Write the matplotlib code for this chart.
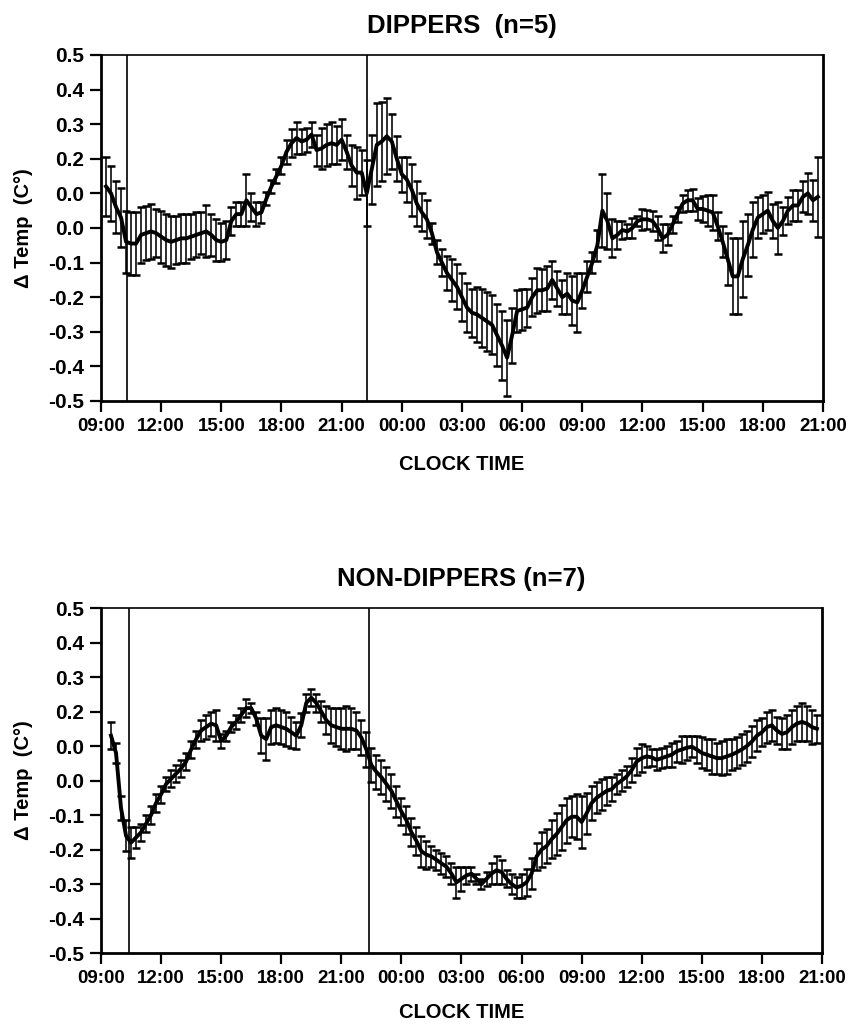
import numpy as np
import matplotlib
matplotlib.use("Agg")
import matplotlib.pyplot as plt

plt.rcParams['font.family'] = ['Liberation Sans', 'DejaVu Sans']

# Clock-tick labels, hours after 09:00 on day 1
tick_hours = [0, 3, 6, 9, 12, 15, 18, 21, 24, 27, 30, 33, 36]
tick_labels = ["09:00", "12:00", "15:00", "18:00", "21:00", "00:00", "03:00",
               "06:00", "09:00", "12:00", "15:00", "18:00", "21:00"]
ytick_values = [-0.5, -0.4, -0.3, -0.2, -0.1, 0.0, 0.1, 0.2, 0.3, 0.4, 0.5]
ytick_labels = ["-0.5", "-0.4", "-0.3", "-0.2", "-0.1", "0.0", "0.0",
                "0.2", "0.3", "0.4", "0.5"]

# DIPPERS: 15-min means from 09:15, one row per clock hour
dip_mean = [
    0.12, 0.10, 0.06, 0.03,          # 09
    -0.04, -0.045, -0.045, -0.02,    # 10
    -0.015, -0.01, -0.015, -0.025,   # 11
    -0.035, -0.04, -0.035, -0.03,    # 12
    -0.03, -0.025, -0.02, -0.015,    # 13
    -0.01, -0.02, -0.035, -0.04,     # 14
    -0.035, 0.02, 0.04, 0.04,        # 15
    0.08, 0.06, 0.04, 0.045,         # 16
    0.085, 0.12, 0.15, 0.18,         # 17
    0.22, 0.245, 0.26, 0.25,         # 18
    0.255, 0.27, 0.225, 0.23,        # 19
    0.24, 0.245, 0.24, 0.255,        # 20
    0.22, 0.18, 0.16, 0.16,          # 21
    0.10, 0.17, 0.24, 0.25,          # 22
    0.265, 0.25, 0.20, 0.155,        # 23
    0.14, 0.11, 0.07, 0.045,         # 00
    0.025, -0.015, -0.07, -0.10,     # 01
    -0.13, -0.15, -0.17, -0.20,      # 02
    -0.23, -0.245, -0.25, -0.26,     # 03
    -0.27, -0.28, -0.31, -0.34,      # 04
    -0.375, -0.31, -0.24, -0.235,    # 05
    -0.23, -0.20, -0.18, -0.18,      # 06
    -0.175, -0.15, -0.175, -0.20,    # 07
    -0.19, -0.21, -0.215, -0.18,     # 08
    -0.14, -0.10, -0.05, 0.05,       # 09
    0.02, -0.03, -0.02, -0.006,      # 10
    -0.01, 0.0, 0.02, 0.025,         # 11
    0.025, 0.02, 0.0, -0.03,         # 12
    -0.02, 0.01, 0.04, 0.07,         # 13
    0.08, 0.08, 0.055, 0.055,        # 14
    0.05, 0.045, 0.005, -0.04,       # 15
    -0.09, -0.14, -0.14, -0.09,      # 16
    -0.05, -0.005, 0.03, 0.04,       # 17
    0.05, 0.02, 0.0, 0.02,           # 18
    0.05, 0.065, 0.065, 0.09,        # 19
    0.10, 0.08, 0.09,                # 20
]
dip_se = [
    0.085, 0.08, 0.075, 0.085,
    0.09, 0.09, 0.09, 0.08,
    0.078, 0.08, 0.07, 0.075,
    0.075, 0.075, 0.07, 0.07,
    0.07, 0.065, 0.065, 0.06,
    0.075, 0.06, 0.06, 0.055,
    0.055, 0.04, 0.035, 0.035,
    0.075, 0.04, 0.035, 0.03,
    0.02, 0.02, 0.02, 0.025,
    0.035, 0.04, 0.045, 0.035,
    0.035, 0.035, 0.045, 0.06,
    0.06, 0.06, 0.055, 0.06,
    0.05, 0.06, 0.075, 0.065,
    0.095, 0.10, 0.12, 0.115,
    0.11, 0.08, 0.065, 0.05,
    0.065, 0.075, 0.065, 0.055,
    0.055, 0.03, 0.035, 0.04,
    0.05, 0.06, 0.065, 0.07,
    0.07, 0.07, 0.08, 0.085,
    0.085, 0.085, 0.09, 0.10,
    0.11, 0.08, 0.06, 0.06,
    0.055, 0.055, 0.065, 0.06,
    0.065, 0.055, 0.05, 0.05,
    0.06, 0.07, 0.085, 0.05,
    0.045, 0.03, 0.045, 0.105,
    0.08, 0.055, 0.04, 0.025,
    0.02, 0.03, 0.015, 0.03,
    0.028, 0.028, 0.035, 0.04,
    0.03, 0.025, 0.022, 0.025,
    0.03, 0.032, 0.032, 0.038,
    0.045, 0.05, 0.04, 0.045,
    0.075, 0.11, 0.11, 0.11,
    0.09, 0.08, 0.06, 0.055,
    0.055, 0.05, 0.075, 0.04,
    0.04, 0.045, 0.045, 0.045,
    0.06, 0.06, 0.115,
]

# NON-DIPPERS: 15-min means from 09:30
nondip_mean = [
    0.13, 0.08, -0.08,               # 09
    -0.16, -0.18, -0.165, -0.15,     # 10
    -0.125, -0.10, -0.065, -0.04,    # 11
    -0.01, 0.005, 0.02, 0.035,       # 12
    0.055, 0.09, 0.12, 0.145,        # 13
    0.155, 0.165, 0.16, 0.115,       # 14
    0.13, 0.155, 0.17, 0.19,         # 15
    0.21, 0.21, 0.18, 0.13,          # 16
    0.12, 0.155, 0.16, 0.155,        # 17
    0.15, 0.14, 0.13, 0.16,          # 18
    0.225, 0.24, 0.225, 0.20,        # 19
    0.175, 0.16, 0.155, 0.15,        # 20
    0.15, 0.15, 0.145, 0.125,        # 21
    0.09, 0.045, 0.025, 0.01,        # 22
    -0.01, -0.03, -0.06, -0.09,      # 23
    -0.115, -0.15, -0.175, -0.205,   # 00
    -0.215, -0.22, -0.23, -0.24,     # 01
    -0.25, -0.27, -0.295, -0.285,    # 02
    -0.275, -0.27, -0.285, -0.30,    # 03
    -0.285, -0.27, -0.26, -0.265,    # 04
    -0.285, -0.30, -0.31, -0.305,    # 05
    -0.295, -0.27, -0.22, -0.20,     # 06
    -0.19, -0.17, -0.155, -0.135,    # 07
    -0.115, -0.105, -0.105, -0.12,   # 08
    -0.095, -0.065, -0.05, -0.04,    # 09
    -0.03, -0.025, -0.01, 0.0,       # 10
    0.012, 0.03, 0.055, 0.065,       # 11
    0.07, 0.067, 0.06, 0.065,        # 12
    0.07, 0.075, 0.085, 0.09,        # 13
    0.095, 0.098, 0.09, 0.08,        # 14
    0.075, 0.07, 0.065, 0.065,       # 15
    0.07, 0.075, 0.082, 0.09,        # 16
    0.10, 0.113, 0.13, 0.14,         # 17
    0.155, 0.16, 0.145, 0.135,       # 18
    0.14, 0.155, 0.165, 0.17,        # 19
    0.165, 0.155, 0.15,              # 20
]
nondip_se = [
    0.04, 0.03, 0.035,
    0.045, 0.045, 0.03, 0.025,
    0.025, 0.025, 0.025, 0.025,
    0.02, 0.025, 0.025, 0.025,
    0.025, 0.025, 0.025, 0.03,
    0.035, 0.035, 0.045, 0.02,
    0.015, 0.015, 0.02, 0.02,
    0.025, 0.015, 0.02, 0.05,
    0.06, 0.05, 0.05, 0.05,
    0.05, 0.045, 0.04, 0.035,
    0.025, 0.025, 0.025, 0.03,
    0.04, 0.05, 0.055, 0.06,
    0.065, 0.06, 0.055, 0.05,
    0.05, 0.05, 0.05, 0.05,
    0.05, 0.05, 0.045, 0.04,
    0.04, 0.04, 0.04, 0.045,
    0.04, 0.03, 0.03, 0.03,
    0.03, 0.03, 0.045, 0.035,
    0.025, 0.02, 0.015, 0.015,
    0.02, 0.03, 0.04, 0.035,
    0.025, 0.03, 0.03, 0.035,
    0.04, 0.045, 0.04, 0.05,
    0.05, 0.055, 0.06, 0.065,
    0.065, 0.06, 0.065, 0.075,
    0.06, 0.05, 0.045, 0.045,
    0.04, 0.035, 0.03, 0.03,
    0.03, 0.035, 0.04, 0.04,
    0.03, 0.025, 0.03, 0.03,
    0.03, 0.035, 0.03, 0.04,
    0.035, 0.03, 0.04, 0.045,
    0.045, 0.05, 0.045, 0.05,
    0.05, 0.045, 0.045, 0.045,
    0.045, 0.045, 0.045, 0.04,
    0.045, 0.045, 0.04, 0.045,
    0.05, 0.05, 0.05, 0.055,
    0.05, 0.05, 0.04,
]

# Lights-off / lights-on markers (hours after 09:00)
dip_markers = [1.29, 13.25]
nondip_markers = [1.39, 13.37]

panels = [
    ("DIPPERS  (n=5)", 0.25, dip_mean, dip_se, dip_markers,
     [0.1184, 0.6088, 0.8464, 0.3376], 15),
    ("NON-DIPPERS (n=7)", 0.5, nondip_mean, nondip_se, nondip_markers,
     [0.1184, 0.0702, 0.8452, 0.3366], 12),
]

fig = plt.figure(figsize=(8.53, 10.25), dpi=100)

for title, t0, mean, se, markers, rect, xpad in panels:
    ax = fig.add_axes(rect)
    t = t0 + 0.25 * np.arange(len(mean))
    ax.errorbar(t, mean, yerr=se, fmt='-', color='black', lw=2.8,
                elinewidth=1.15, capsize=2.6, capthick=1.8)
    for m in markers:
        ax.axvline(m, color='black', lw=1.2)
    ax.set_xlim(0, 36)
    ax.set_ylim(-0.5, 0.5)
    ax.set_xticks(tick_hours)
    ax.set_xticklabels(tick_labels, fontsize=13.5, fontweight='bold')
    ax.set_yticks(ytick_values)
    ax.set_yticklabels(ytick_labels, fontsize=15, fontweight='bold')
    ax.tick_params(direction='out', length=8, width=1.6, pad=4)
    for side in ('left', 'bottom', 'right'):
        ax.spines[side].set_linewidth(2.0)
    ax.spines['top'].set_linewidth(1.2)
    ax.set_title(title, fontsize=18.5, fontweight='bold', pad=16)
    ax.set_xlabel("CLOCK TIME", fontsize=14.5, fontweight='bold',
                  labelpad=xpad)
    ax.set_ylabel("\u0394 Temp  (C\u00b0)", fontsize=14.5, fontweight='bold',
                  labelpad=11)

fig.savefig("out.png", dpi=100)
